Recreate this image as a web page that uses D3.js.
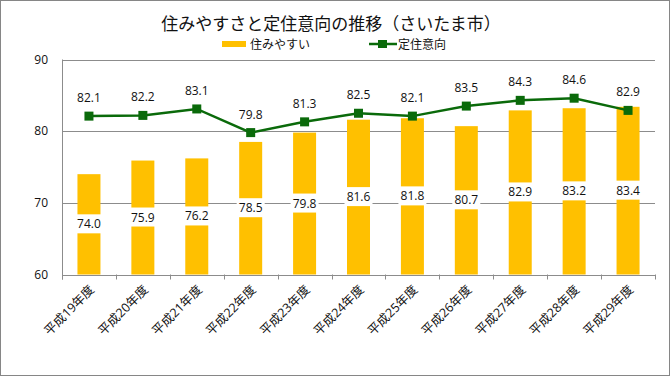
<!DOCTYPE html>
<html>
  <head>
    <meta charset="utf-8" />
    <style>
      html,
      body {
        margin: 0;
        padding: 0;
        background: #fff;
      }
      svg text {
        font-family: 'Open Sans', 'Noto Sans CJK JP', sans-serif;
        fill: #111;
      }
    </style>
  </head>
  <body>
    <svg id="svg" width="670" height="376"></svg>
    <script src="https://cdn.jsdelivr.net/npm/d3@7"></script>
    <script>
      const years = [
        '平成19年度', '平成20年度', '平成21年度', '平成22年度', '平成23年度', '平成24年度',
        '平成25年度', '平成26年度', '平成27年度', '平成28年度', '平成29年度'
      ];
      const livability = [74.0, 75.9, 76.2, 78.5, 79.8, 81.6, 81.8, 80.7, 82.9, 83.2, 83.4];
      const settle = [82.1, 82.2, 83.1, 79.8, 81.3, 82.5, 82.1, 83.5, 84.3, 84.6, 82.9];
      const yTicks = [60, 70, 80, 90];

      const width = 670;
      const height = 376;
      const plotLeft = 62;
      const plotRight = 655;
      const plotTop = 59.5;
      const plotBottom = 274.5;
      const barColor = '#FFC000';
      const lineColor = '#0A6A0A';

      const svg = d3.select('#svg');

      svg
        .append('rect')
        .attr('x', 0.5)
        .attr('y', 0.5)
        .attr('width', width - 1)
        .attr('height', height - 1)
        .attr('fill', '#fff')
        .attr('stroke', '#868686');

      const x = d3.scaleBand().domain(years).range([plotLeft, plotRight]).paddingInner(0).paddingOuter(0);
      const y = d3.scaleLinear().domain([60, 90]).range([plotBottom, plotTop]);

      // gridlines
      svg
        .append('g')
        .selectAll('line')
        .data(yTicks)
        .enter()
        .append('line')
        .attr('x1', plotLeft)
        .attr('x2', plotRight)
        .attr('y1', (d) => Math.round(y(d)) + 0.5)
        .attr('y2', (d) => Math.round(y(d)) + 0.5)
        .attr('stroke', '#8c8c8c');

      // y axis line and labels
      svg
        .append('line')
        .attr('x1', plotLeft + 0.5)
        .attr('x2', plotLeft + 0.5)
        .attr('y1', plotTop)
        .attr('y2', plotBottom + 5)
        .attr('stroke', '#8c8c8c');
      svg
        .append('g')
        .selectAll('text')
        .data(yTicks)
        .enter()
        .append('text')
        .attr('x', 48)
        .attr('y', (d) => y(d) + 4)
        .attr('text-anchor', 'end')
        .style('font-size', '12px')
        .text((d) => d);

      // x ticks at category boundaries
      const bounds = years.map((d) => x(d)).concat([plotRight]);
      svg
        .append('g')
        .selectAll('line')
        .data(bounds)
        .enter()
        .append('line')
        .attr('x1', (d) => Math.round(d) + 0.5)
        .attr('x2', (d) => Math.round(d) + 0.5)
        .attr('y1', plotBottom)
        .attr('y2', plotBottom + 5)
        .attr('stroke', '#8c8c8c');

      // x labels rotated
      svg
        .append('g')
        .selectAll('text')
        .data(years)
        .enter()
        .append('text')
        .attr('text-anchor', 'end')
        .style('font-size', '12.5px')
        .attr('transform', (d) => `translate(${x(d) + x.bandwidth() / 2 + 6},${plotBottom + 16}) rotate(-45)`)
        .text((d) => d);

      // bars
      const barW = 23;
      svg
        .append('g')
        .selectAll('rect')
        .data(livability)
        .enter()
        .append('rect')
        .attr('x', (d, i) => x(years[i]) + x.bandwidth() / 2 - barW / 2)
        .attr('y', (d) => y(d))
        .attr('width', barW)
        .attr('height', (d) => y(60) - y(d))
        .attr('fill', barColor);

      // bar labels with white boxes
      const barLabels = svg.append('g');
      barLabels
        .selectAll('rect')
        .data(livability)
        .enter()
        .append('rect')
        .attr('x', (d, i) => x(years[i]) + x.bandwidth() / 2 - 14)
        .attr('y', (d) => (y(d) + y(60)) / 2 - 10)
        .attr('width', 28)
        .attr('height', 19)
        .attr('fill', '#fff');
      barLabels
        .selectAll('text')
        .data(livability)
        .enter()
        .append('text')
        .attr('x', (d, i) => x(years[i]) + x.bandwidth() / 2)
        .attr('y', (d) => (y(d) + y(60)) / 2 + 4)
        .attr('text-anchor', 'middle')
        .style('font-size', '12px')
        .text((d) => d.toFixed(1));

      // line
      const line = d3
        .line()
        .x((d, i) => x(years[i]) + x.bandwidth() / 2)
        .y((d) => y(d));
      svg
        .append('path')
        .datum(settle)
        .attr('d', line)
        .attr('fill', 'none')
        .attr('stroke', lineColor)
        .attr('stroke-width', 2.5);
      svg
        .append('g')
        .selectAll('rect')
        .data(settle)
        .enter()
        .append('rect')
        .attr('x', (d, i) => x(years[i]) + x.bandwidth() / 2 - 4.5)
        .attr('y', (d) => y(d) - 4.5)
        .attr('width', 9)
        .attr('height', 9)
        .attr('fill', lineColor);
      svg
        .append('g')
        .selectAll('text')
        .data(settle)
        .enter()
        .append('text')
        .attr('x', (d, i) => x(years[i]) + x.bandwidth() / 2)
        .attr('y', (d) => y(d) - 14)
        .attr('text-anchor', 'middle')
        .style('font-size', '12px')
        .text((d) => d.toFixed(1));

      // title
      svg
        .append('text')
        .attr('x', 331)
        .attr('y', 30)
        .attr('text-anchor', 'middle')
        .style('font-size', '17px')
        .text('住みやすさと定住意向の推移（さいたま市）');

      // legend
      const legend = svg.append('g');
      legend
        .append('rect')
        .attr('x', 222)
        .attr('y', 41)
        .attr('width', 24)
        .attr('height', 6)
        .attr('fill', barColor);
      legend
        .append('text')
        .attr('x', 250)
        .attr('y', 48.5)
        .style('font-size', '12px')
        .text('住みやすい');
      legend
        .append('line')
        .attr('x1', 369)
        .attr('x2', 397)
        .attr('y1', 44)
        .attr('y2', 44)
        .attr('stroke', lineColor)
        .attr('stroke-width', 2.5);
      legend
        .append('rect')
        .attr('x', 378)
        .attr('y', 40)
        .attr('width', 9)
        .attr('height', 8)
        .attr('fill', lineColor);
      legend
        .append('text')
        .attr('x', 398)
        .attr('y', 48.5)
        .style('font-size', '12px')
        .text('定住意向');
    </script>
  </body>
</html>
